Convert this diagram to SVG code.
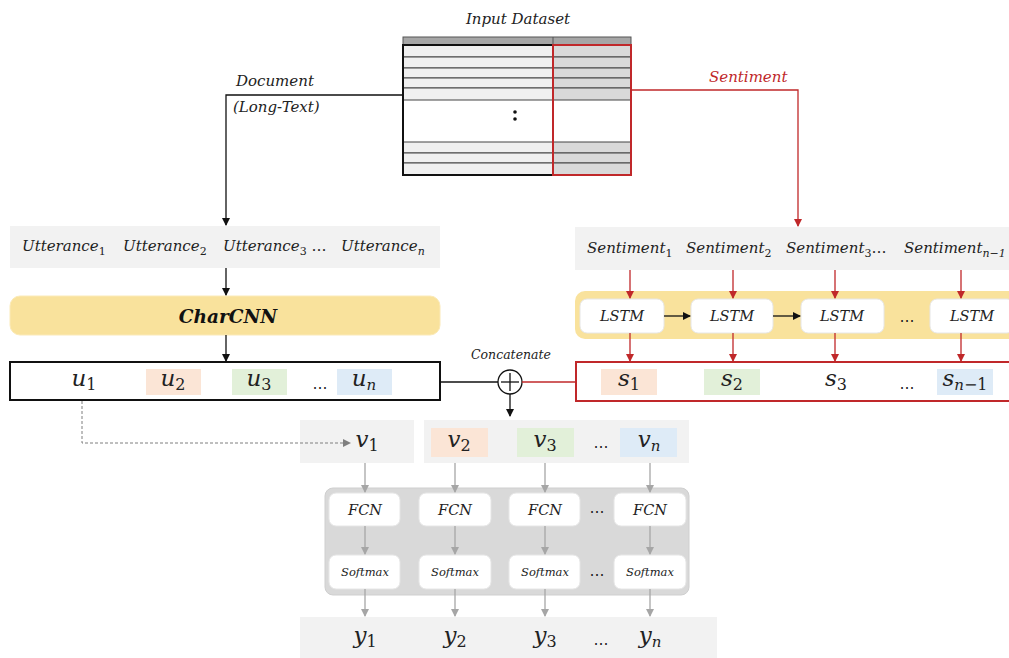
<svg xmlns="http://www.w3.org/2000/svg" width="1009" height="658" viewBox="0 0 1009 658">
<style>
.lbl{font-family:"DejaVu Serif","Liberation Serif",serif;font-style:italic;font-size:15px;fill:#222}
.seq{font-family:"DejaVu Serif","Liberation Serif",serif;font-style:italic;font-size:15px;fill:#222}
.var{font-family:"DejaVu Serif","Liberation Serif",serif;font-style:italic;font-size:23px;fill:#222}
.sub{font-style:normal;font-size:16px}
.subi{font-style:italic;font-size:15px}
.box{font-family:"DejaVu Serif","Liberation Serif",serif;font-style:italic;font-size:14.5px;fill:#222}
.sm{font-family:"DejaVu Serif","Liberation Serif",serif;font-style:italic;font-size:11.5px;fill:#222}
.dots{font-family:"DejaVu Sans","Liberation Sans",sans-serif;font-size:15px;fill:#222}
.lg{fill:#f2f2f2}
.peach{fill:#fbe5d6}
.green{fill:#e2f0d9}
.blue{fill:#deebf7}
.wbox{fill:#fff;stroke:#e6e6e6;stroke-width:1}
.blk{stroke:#111;stroke-width:1.3;fill:none}
.red{stroke:#c0282a;stroke-width:1.3;fill:none}
.gry{stroke:#a6a6a6;stroke-width:1.3;fill:none}
</style>
<defs>
<marker id="ab" markerWidth="8" markerHeight="8" refX="7" refY="4" orient="auto" markerUnits="userSpaceOnUse"><path d="M0,0 L8,4 L0,8 z" fill="#111"/></marker>
<marker id="ar" markerWidth="8" markerHeight="8" refX="7" refY="4" orient="auto" markerUnits="userSpaceOnUse"><path d="M0,0 L8,4 L0,8 z" fill="#c0282a"/></marker>
<marker id="ag" markerWidth="8" markerHeight="8" refX="7" refY="4" orient="auto" markerUnits="userSpaceOnUse"><path d="M0,0 L8,4 L0,8 z" fill="#a6a6a6"/></marker>
<marker id="ad" markerWidth="8" markerHeight="8" refX="7" refY="4" orient="auto" markerUnits="userSpaceOnUse"><path d="M0,0 L8,4 L0,8 z" fill="#7f7f7f"/></marker>
</defs>
<rect width="1009" height="658" fill="#fff"/>

<g id="dataset">
<text class="lbl" x="518" y="24" text-anchor="middle">Input Dataset</text>
<rect x="403" y="37" width="228" height="8" fill="#a6a6a6" stroke="#555" stroke-width="1"/>
<line x1="553" y1="37" x2="553" y2="45" stroke="#555"/>
<g fill="#f0f0f0" stroke="#444" stroke-width="1">
<rect x="403" y="45" width="150" height="12"/><rect x="403" y="57" width="150" height="11"/><rect x="403" y="68" width="150" height="10"/><rect x="403" y="78" width="150" height="10"/><rect x="403" y="88" width="150" height="12"/>
<rect x="403" y="142" width="150" height="11"/><rect x="403" y="153" width="150" height="10"/><rect x="403" y="163" width="150" height="12"/>
</g>
<g fill="#d9d9d9" stroke="#444" stroke-width="1">
<rect x="553" y="45" width="78" height="12"/><rect x="553" y="57" width="78" height="11"/><rect x="553" y="68" width="78" height="10"/><rect x="553" y="78" width="78" height="10"/><rect x="553" y="88" width="78" height="12"/>
<rect x="553" y="142" width="78" height="11"/><rect x="553" y="153" width="78" height="10"/><rect x="553" y="163" width="78" height="12"/>
</g>
<rect x="403" y="45" width="150" height="130" fill="none" stroke="#111" stroke-width="2"/>
<rect x="553" y="45" width="78" height="130" fill="none" stroke="#c0282a" stroke-width="2"/>
<circle cx="515" cy="112" r="1.8" fill="#111"/>
<circle cx="515" cy="119" r="1.8" fill="#111"/>
</g>

<g id="labels">
<text class="lbl" x="236" y="86">Document</text>
<text class="lbl" x="233" y="112">(Long-Text)</text>
<text class="lbl" x="709" y="82" style="fill:#c0282a">Sentiment</text>
<text class="lbl" x="511" y="359" text-anchor="middle" style="font-size:12.5px">Concatenate</text>
</g>

<g id="utterances">
<rect x="10" y="226" width="430" height="42" class="lg"/>
<text class="seq" x="22" y="251">Utterance<tspan style="font-style:normal;font-size:11px" dy="4">1</tspan></text>
<text class="seq" x="123" y="251">Utterance<tspan style="font-style:normal;font-size:11px" dy="4">2</tspan></text>
<text class="seq" x="223" y="251">Utterance<tspan style="font-style:normal;font-size:11px" dy="4">3</tspan><tspan dy="-4" style="font-style:normal"> …</tspan></text>
<text class="seq" x="341" y="251">Utterance<tspan style="font-size:11px" dy="4">n</tspan></text>
</g>

<g id="charcnn">
<rect x="10" y="296" width="430" height="39" rx="10" fill="#f9e29c" stroke="#fbeab8" stroke-width="1"/>
<text x="228" y="323" text-anchor="middle" style="font-family:'DejaVu Serif','Liberation Serif',serif;font-style:italic;font-weight:bold;font-size:18.5px;fill:#111">CharCNN</text>
</g>

<g id="uvec">
<rect x="10" y="362" width="430" height="38" fill="#fff" stroke="#111" stroke-width="2"/>
<rect x="146" y="369" width="55" height="26" class="peach"/>
<rect x="232" y="369" width="55" height="26" class="green"/>
<rect x="337" y="369" width="55" height="26" class="blue"/>
<text class="var" x="84" y="386" text-anchor="middle">u<tspan class="sub" dy="4">1</tspan></text>
<text class="var" x="173" y="386" text-anchor="middle">u<tspan class="sub" dy="4">2</tspan></text>
<text class="var" x="259" y="386" text-anchor="middle">u<tspan class="sub" dy="4">3</tspan></text>
<text class="dots" x="320" y="389" text-anchor="middle">…</text>
<text class="var" x="364" y="386" text-anchor="middle">u<tspan class="subi" dy="4">n</tspan></text>
</g>

<g id="sentiments">
<rect x="575" y="227" width="440" height="43" class="lg"/>
<text class="seq" x="587" y="253">Sentiment<tspan style="font-style:normal;font-size:11px" dy="4">1</tspan></text>
<text class="seq" x="686" y="253">Sentiment<tspan style="font-style:normal;font-size:11px" dy="4">2</tspan></text>
<text class="seq" x="786" y="253">Sentiment<tspan style="font-style:normal;font-size:11px" dy="4">3</tspan><tspan dy="-4" style="font-style:normal">…</tspan></text>
<text class="seq" x="904" y="253">Sentiment<tspan style="font-size:11px" dy="4">n−1</tspan></text>
</g>

<g id="lstm">
<rect x="575" y="291" width="445" height="48" rx="10" fill="#f9e29c"/>
<rect x="580" y="299" width="84" height="34" rx="7" class="wbox"/>
<rect x="691" y="299" width="82" height="34" rx="7" class="wbox"/>
<rect x="801" y="299" width="83" height="34" rx="7" class="wbox"/>
<rect x="930" y="299" width="84" height="34" rx="7" class="wbox"/>
<text class="box" x="622" y="321" text-anchor="middle">LSTM</text>
<text class="box" x="732" y="321" text-anchor="middle">LSTM</text>
<text class="box" x="842" y="321" text-anchor="middle">LSTM</text>
<text class="dots" x="907" y="322" text-anchor="middle">…</text>
<text class="box" x="972" y="321" text-anchor="middle">LSTM</text>
</g>

<g id="svec">
<rect x="576" y="362" width="440" height="39" fill="#fff" stroke="#c0282a" stroke-width="2"/>
<rect x="601" y="369" width="56" height="26" class="peach"/>
<rect x="704" y="369" width="56" height="26" class="green"/>
<rect x="937" y="369" width="56" height="26" class="blue"/>
<text class="var" x="629" y="386" text-anchor="middle">s<tspan class="sub" dy="4">1</tspan></text>
<text class="var" x="732" y="386" text-anchor="middle">s<tspan class="sub" dy="4">2</tspan></text>
<text class="var" x="836" y="386" text-anchor="middle">s<tspan class="sub" dy="4">3</tspan></text>
<text class="dots" x="907" y="389" text-anchor="middle">…</text>
<text class="var" x="965" y="386" text-anchor="middle">s<tspan class="subi" dy="4">n</tspan><tspan class="sub">−1</tspan></text>
</g>

<g id="concat">
<circle cx="510" cy="382" r="12" fill="#fff" stroke="#111" stroke-width="1.3"/>
<line x1="501" y1="382" x2="519" y2="382" stroke="#111" stroke-width="1.3"/>
<line x1="510" y1="373" x2="510" y2="391" stroke="#111" stroke-width="1.3"/>
</g>

<g id="vvec">
<rect x="300" y="420" width="114" height="43" class="lg"/>
<rect x="424" y="420" width="265" height="43" class="lg"/>
<rect x="431" y="428" width="57" height="29" class="peach"/>
<rect x="517" y="428" width="57" height="29" class="green"/>
<rect x="620" y="428" width="57" height="29" class="blue"/>
<text class="var" x="367" y="447" text-anchor="middle">v<tspan class="sub" dy="4">1</tspan></text>
<text class="var" x="459" y="447" text-anchor="middle">v<tspan class="sub" dy="4">2</tspan></text>
<text class="var" x="545" y="447" text-anchor="middle">v<tspan class="sub" dy="4">3</tspan></text>
<text class="dots" x="601" y="448" text-anchor="middle">…</text>
<text class="var" x="649" y="447" text-anchor="middle">v<tspan class="subi" dy="4">n</tspan></text>
</g>

<g id="classifier">
<rect x="325" y="488" width="364" height="107" rx="8" fill="#d9d9d9" stroke="#cfcfcf"/>
<rect x="329" y="493" width="71" height="33" rx="7" class="wbox"/>
<rect x="419" y="493" width="72" height="33" rx="7" class="wbox"/>
<rect x="509" y="493" width="71" height="33" rx="7" class="wbox"/>
<rect x="614" y="493" width="72" height="33" rx="7" class="wbox"/>
<text class="box" x="365" y="515" text-anchor="middle">FCN</text>
<text class="box" x="455" y="515" text-anchor="middle">FCN</text>
<text class="box" x="545" y="515" text-anchor="middle">FCN</text>
<text class="dots" x="597" y="513" text-anchor="middle">…</text>
<text class="box" x="650" y="515" text-anchor="middle">FCN</text>
<rect x="329" y="555" width="71" height="34" rx="7" class="wbox"/>
<rect x="419" y="555" width="72" height="34" rx="7" class="wbox"/>
<rect x="509" y="555" width="71" height="34" rx="7" class="wbox"/>
<rect x="614" y="555" width="72" height="34" rx="7" class="wbox"/>
<text class="sm" x="365" y="576" text-anchor="middle">Softmax</text>
<text class="sm" x="455" y="576" text-anchor="middle">Softmax</text>
<text class="sm" x="545" y="576" text-anchor="middle">Softmax</text>
<text class="dots" x="597" y="576" text-anchor="middle">…</text>
<text class="sm" x="650" y="576" text-anchor="middle">Softmax</text>
</g>

<g id="outputs">
<rect x="300" y="617" width="417" height="41" class="lg"/>
<text class="var" x="365" y="643" text-anchor="middle">y<tspan class="sub" dy="4">1</tspan></text>
<text class="var" x="455" y="643" text-anchor="middle">y<tspan class="sub" dy="4">2</tspan></text>
<text class="var" x="545" y="643" text-anchor="middle">y<tspan class="sub" dy="4">3</tspan></text>
<text class="dots" x="601" y="645" text-anchor="middle">…</text>
<text class="var" x="650" y="643" text-anchor="middle">y<tspan class="subi" dy="4">n</tspan></text>
</g>

<g id="connectors">
<path class="blk" d="M403,95 H226 V225" marker-end="url(#ab)"/>
<path class="red" d="M631,90 H798 V226" marker-end="url(#ar)"/>
<path class="blk" d="M226,268 V295" marker-end="url(#ab)"/>
<path class="blk" d="M226,335 V361" marker-end="url(#ab)"/>
<path class="blk" d="M440,382 H498"/>
<path class="red" d="M522,382 H576" style="stroke-width:1.6"/>
<path class="blk" d="M510,394 V416" marker-end="url(#ab)"/>
<path class="red" d="M630,270 V298" marker-end="url(#ar)"/>
<path class="red" d="M733,270 V298" marker-end="url(#ar)"/>
<path class="red" d="M835,270 V298" marker-end="url(#ar)"/>
<path class="red" d="M961,270 V298" marker-end="url(#ar)"/>
<path class="blk" d="M664,316 H690" marker-end="url(#ab)"/>
<path class="blk" d="M773,316 H800" marker-end="url(#ab)"/>
<path class="red" d="M630,333 V361" marker-end="url(#ar)"/>
<path class="red" d="M733,333 V361" marker-end="url(#ar)"/>
<path class="red" d="M835,333 V361" marker-end="url(#ar)"/>
<path class="red" d="M961,333 V361" marker-end="url(#ar)"/>
<path d="M82,401 V443 H350" fill="none" stroke="#7f7f7f" stroke-width="1" stroke-dasharray="3,2" marker-end="url(#ad)"/>
<path class="gry" d="M365,463 V492" marker-end="url(#ag)"/>
<path class="gry" d="M455,463 V492" marker-end="url(#ag)"/>
<path class="gry" d="M545,463 V492" marker-end="url(#ag)"/>
<path class="gry" d="M650,463 V492" marker-end="url(#ag)"/>
<path class="gry" d="M365,526 V554" marker-end="url(#ag)"/>
<path class="gry" d="M455,526 V554" marker-end="url(#ag)"/>
<path class="gry" d="M545,526 V554" marker-end="url(#ag)"/>
<path class="gry" d="M650,526 V554" marker-end="url(#ag)"/>
<path class="gry" d="M365,589 V616" marker-end="url(#ag)"/>
<path class="gry" d="M455,589 V616" marker-end="url(#ag)"/>
<path class="gry" d="M545,589 V616" marker-end="url(#ag)"/>
<path class="gry" d="M650,589 V616" marker-end="url(#ag)"/>
</g>
</svg>
